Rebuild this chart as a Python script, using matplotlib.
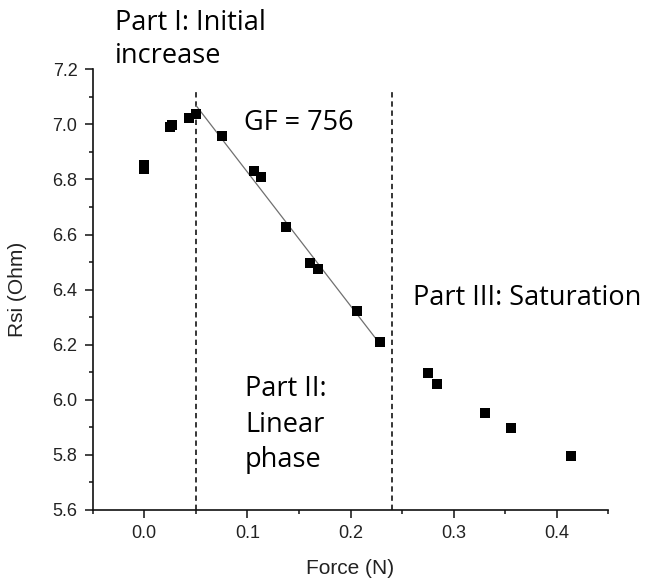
import numpy as np
import matplotlib
matplotlib.use("Agg")
import matplotlib.pyplot as plt

# ---- data ----
force_n = [0.0, 0.0, 0.0245, 0.0265, 0.043, 0.0505, 0.075, 0.106, 0.113, 0.137,
           0.161, 0.168, 0.206, 0.229, 0.275, 0.284, 0.330, 0.356, 0.414]
rsi_ohm = [6.854, 6.838, 6.992, 6.999, 7.022, 7.037, 6.957, 6.832, 6.810, 6.626,
           6.495, 6.474, 6.323, 6.211, 6.096, 6.057, 5.953, 5.898, 5.796]
phase_bounds = [0.05, 0.24]
x_ticks = [0.0, 0.1, 0.2, 0.3, 0.4]
y_ticks = [5.6, 5.8, 6.0, 6.2, 6.4, 6.6, 6.8, 7.0, 7.2]
gf_label = "GF = 756"

W, H = 651, 578
fig = plt.figure(figsize=(W / 100, H / 100), dpi=100)
ax = fig.add_axes([92.7 / W, 1 - 510 / H, (608.3 - 92.7) / W, (510 - 69.3) / H])

x = np.array(force_n)
y = np.array(rsi_ohm)

# linear fit over Part II
m = (x >= phase_bounds[0]) & (x <= phase_bounds[1])
k, b = np.polyfit(x[m], y[m], 1)
xf = np.array([x[m].min(), x[m].max()])
ax.plot(xf, k * xf + b, color="#707070", lw=0.9, zorder=2)

ax.plot(x, y, ls="none", marker="s", ms=6.6, mew=0, color="black", zorder=3)

for xb in phase_bounds:
    ax.plot([xb, xb], [5.6, 7.13], color="black", lw=1.1,
            dashes=(3.5, 2.5), zorder=1)

ax.set_xlim(-0.05, 0.45)
ax.set_ylim(5.6, 7.2)
ax.set_xticks(x_ticks)
ax.set_xticklabels([f"{v:.1f}" for v in x_ticks])
ax.set_xticks(np.arange(-0.05, 0.46, 0.1), minor=True)
ax.set_yticks(y_ticks)
ax.set_yticklabels([f"{v:.1f}" for v in y_ticks])
ax.set_yticks(np.arange(5.7, 7.15, 0.2), minor=True)

for s in ["top", "right"]:
    ax.spines[s].set_visible(False)
for s in ["left", "bottom"]:
    ax.spines[s].set_linewidth(1.2)
    ax.spines[s].set_color("#111111")

ax.tick_params(which="major", direction="out", length=6, width=1.1,
               labelsize=13, pad=5, colors="#111111")
ax.tick_params(which="minor", direction="out", length=3, width=1.1,
               colors="#111111")
for lab in ax.get_xticklabels() + ax.get_yticklabels():
    lab.set_fontfamily("Liberation Sans")
    lab.set_color("#222222")

ax.set_xlabel("Force (N)", fontfamily="Liberation Sans", fontsize=15,
              labelpad=12, color="#222222")
ax.set_ylabel("Rsi (Ohm)", fontfamily="Liberation Sans", fontsize=15,
              labelpad=18, color="#222222")

ann = dict(family="Open Sans", size=19.5, color="black", va="baseline", ha="left")

def ftext(px, py, s):
    fig.text(px / W, 1 - py / H, s, **ann)

ftext(115, 30, "Part I: Initial")
ftext(115, 63, "increase")
ftext(244, 130, gf_label)
ftext(412.7, 305, "Part III: Saturation")
ftext(245, 396, "Part II:")
ftext(245, 431.7, "Linear")
ftext(245, 466.7, "phase")

fig.savefig("out.png", dpi=100)
